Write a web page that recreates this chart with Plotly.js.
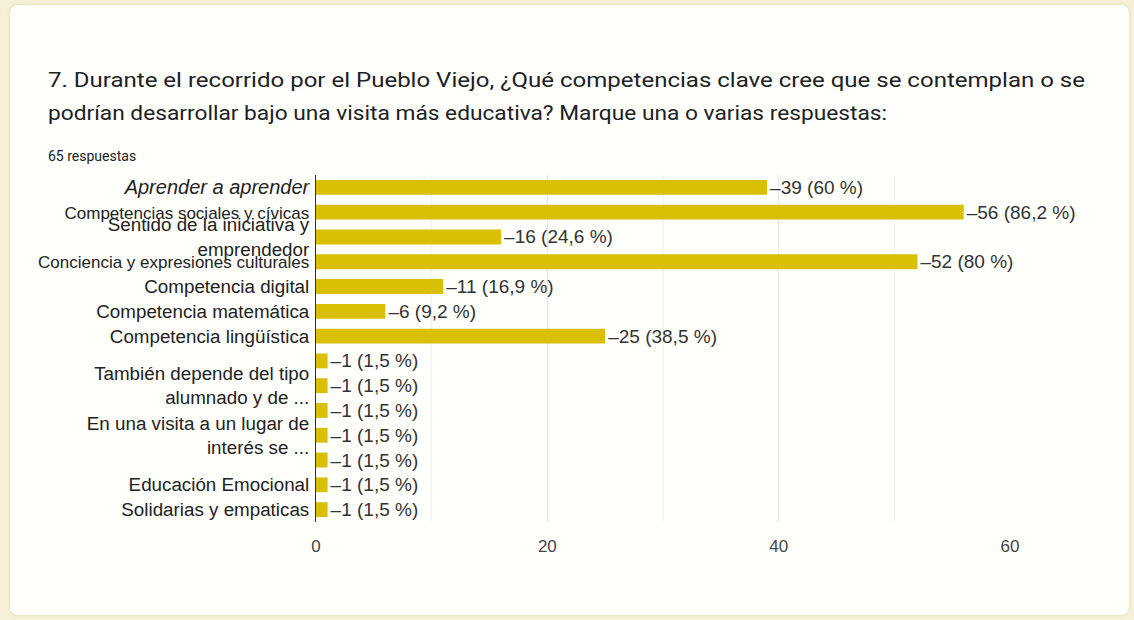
<!DOCTYPE html>
<html>
<head>
<meta charset="utf-8">
<script src="https://cdn.plot.ly/plotly-3.0.1.min.js"></script>
<style>
  html, body { margin:0; padding:0; width:1134px; height:620px; overflow:hidden; background:#f5f0d7; }
  #card { position:absolute; left:10px; top:5px; width:1119px; height:610px; background:#fffffc; border-radius:8px; box-shadow:0 0 3px rgba(200,190,140,0.6); }
  #chart { position:absolute; left:0; top:0; width:1134px; height:620px; }
  .tl { position:absolute; left:48px; font-family:Roboto, sans-serif; font-size:20px; color:#202124; white-space:nowrap; transform-origin:0 50%; line-height:24px; }
  #sub { position:absolute; left:48px; top:147px; font-family:Roboto, sans-serif; font-size:14px; color:#202124; white-space:nowrap; line-height:18px; }
</style>
</head>
<body>
<div id="card"></div>
<div id="chart"></div>
<div class="tl" id="t1" style="top:68px"></div>
<div class="tl" id="t2" style="top:101px"></div>
<div id="sub"></div>
<script>
const titleLines = [
  "7. Durante el recorrido por el Pueblo Viejo, ¿Qué competencias clave cree que se contemplan o se",
  "podrían desarrollar bajo una visita más educativa? Marque una o varias respuestas:"
];
const subtitle = "65 respuestas";

const categories = [
  "Aprender a aprender",
  "Competencias sociales y cívicas",
  "Sentido de la iniciativa y emprendedor",
  "Conciencia y expresiones culturales",
  "Competencia digital",
  "Competencia matemática",
  "Competencia lingüística",
  "Otra respuesta 1",
  "También depende del tipo alumnado y de ...",
  "Otra respuesta 2",
  "En una visita a un lugar de interés se ...",
  "Otra respuesta 3",
  "Educación Emocional",
  "Solidarias y empaticas"
];
const tickLabels = [
  "Aprender a aprender",
  "Competencias sociales y cívicas",
  "Sentido de la iniciativa y<br>emprendedor",
  "Conciencia y expresiones culturales",
  "Competencia digital",
  "Competencia matemática",
  "Competencia lingüística",
  "",
  "También depende del tipo<br>alumnado y de ...",
  "",
  "En una visita a un lugar de<br>interés se ...",
  "",
  "Educación Emocional",
  "Solidarias y empaticas"
];
const values = [39, 56, 16, 52, 11, 6, 25, 1, 1, 1, 1, 1, 1, 1];
const percents = ["60", "86,2", "24,6", "80", "16,9", "9,2", "38,5", "1,5", "1,5", "1,5", "1,5", "1,5", "1,5", "1,5"];
const xTicks = [0, 20, 40, 60];

// header text (real HTML text), stretched to the reference's line widths
document.getElementById("t1").textContent = titleLines[0];
document.getElementById("t2").textContent = titleLines[1];
document.getElementById("sub").textContent = subtitle;
[["t1", 1037], ["t2", 839]].forEach(([id, target]) => {
  const el = document.getElementById(id);
  const w = el.getBoundingClientRect().width;
  if (w > 0) el.style.transform = "scaleX(" + (target / w) + ")";
});

const idx = categories.map((c, i) => i);
const labels = values.map((v, i) => "\u2013" + v + " (" + percents[i] + " %)");

// styling of individual tick labels (kept out of the data arrays)
const styledTicks = tickLabels.map((t, i) => {
  if (i === 0) return '<i><span style="font-size:20px">' + t + '</span></i>';
  if (i === 1 || i === 3) return '<span style="font-size:17px">' + t + '</span>';
  return t;
});

const trace = {
  type: "bar",
  orientation: "h",
  x: values,
  y: idx,
  hovertext: categories,
  text: labels,
  textposition: "outside",
  constraintext: "none",
  cliponaxis: false,
  textfont: { family: "Liberation Sans, Arial, sans-serif", size: 19, color: "#333333" },
  marker: { color: "#d9bf06" },
  width: 0.6
};

const layout = {
  width: 1134,
  height: 620,
  paper_bgcolor: "rgba(0,0,0,0)",
  plot_bgcolor: "rgba(0,0,0,0)",
  margin: { l: 316, r: 124, t: 175, b: 98 },
  showlegend: false,
  font: { family: "Liberation Sans, Arial, sans-serif", color: "#222222" },
  xaxis: {
    range: [0, 60],
    tickvals: xTicks,
    ticktext: xTicks.map(String),
    showgrid: true,
    gridcolor: "#e6e6e6",
    zeroline: false,
    showline: false,
    ticks: "",
    ticklabelstandoff: 12,
    tickfont: { size: 17, color: "#444444" },
    minor: { dtick: 10, tick0: 0, showgrid: true, gridcolor: "#f2f2f2" },
    fixedrange: true
  },
  yaxis: {
    range: [13.5, -0.5],
    tickvals: idx,
    ticktext: styledTicks,
    showgrid: false,
    zeroline: false,
    showline: true,
    linecolor: "#333333",
    linewidth: 1,
    ticks: "",
    ticklabelstandoff: 2,
    tickfont: { size: 18.8, color: "#222222" },
    fixedrange: true
  }
};

Plotly.newPlot("chart", [trace], layout, { displayModeBar: false, staticPlot: true });
</script>
</body>
</html>
